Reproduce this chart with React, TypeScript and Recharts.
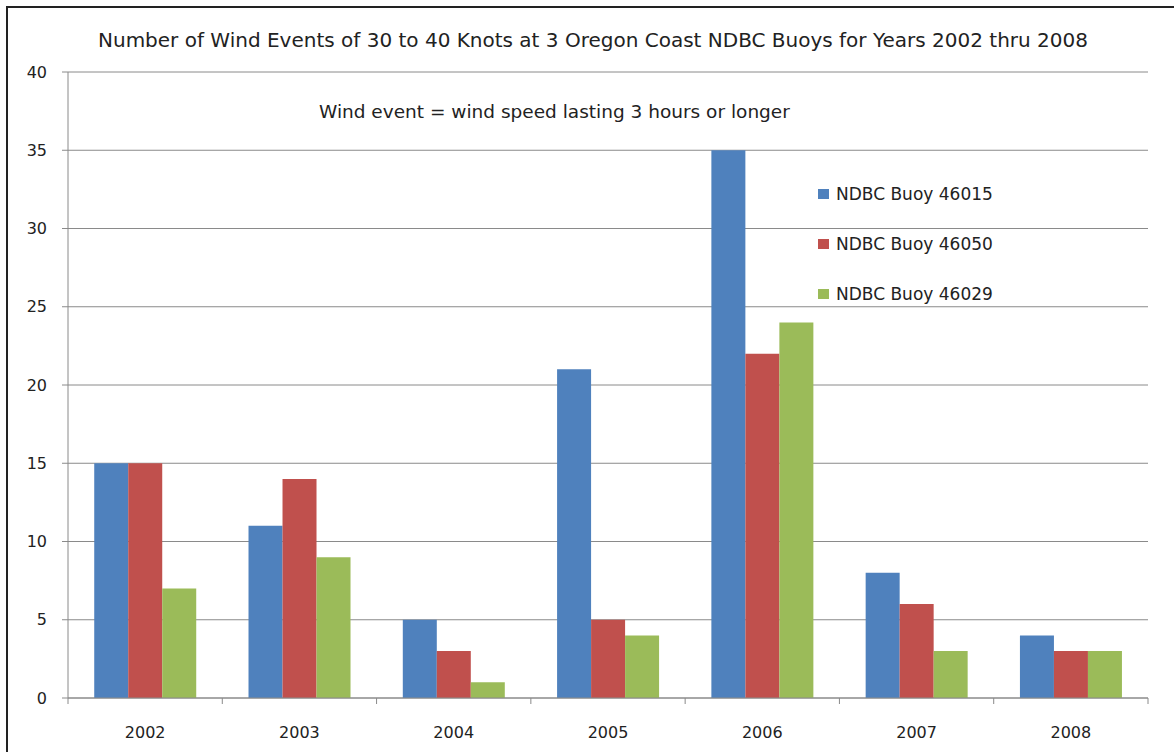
import React from 'react';
import { BarChart, Bar, XAxis, YAxis, CartesianGrid } from 'recharts';

const years = ['2002', '2003', '2004', '2005', '2006', '2007', '2008'];
const buoy46015 = [15, 11, 5, 21, 35, 8, 4];
const buoy46050 = [15, 14, 3, 5, 22, 6, 3];
const buoy46029 = [7, 9, 1, 4, 24, 3, 3];
const yTicks = [0, 5, 10, 15, 20, 25, 30, 35, 40];

const series = [
  { key: 'b46015', name: 'NDBC Buoy 46015', color: '#4F81BD' },
  { key: 'b46050', name: 'NDBC Buoy 46050', color: '#C0504D' },
  { key: 'b46029', name: 'NDBC Buoy 46029', color: '#9BBB59' },
];

const data = years.map((year, i) => ({
  year,
  b46015: buoy46015[i],
  b46050: buoy46050[i],
  b46029: buoy46029[i],
}));

const FONT = '"DejaVu Sans", Verdana, sans-serif';
const TEXT = '#222';
const GRID = '#8a8a8a';

const YearTick = (props: any) => {
  const { x, y, payload, width, visibleTicksCount, index } = props;
  const half = width / visibleTicksCount / 2;
  return (
    <g>
      <line x1={x - half} x2={x - half} y1={y - 6} y2={y} stroke={GRID} strokeWidth={1} />
      {index === visibleTicksCount - 1 && (
        <line x1={x + half} x2={x + half} y1={y - 6} y2={y} stroke={GRID} strokeWidth={1} />
      )}
      <text x={x} y={y + 34} textAnchor="middle" fill={TEXT} fontSize={16} fontFamily={FONT}>
        {payload.value}
      </text>
    </g>
  );
};

const LegendBox = () => (
  <div
    style={{
      position: 'absolute',
      left: 818,
      top: 169,
      fontFamily: FONT,
      fontSize: 17,
      color: TEXT,
      whiteSpace: 'nowrap',
    }}
  >
    {series.map((s) => (
      <div key={s.key} style={{ display: 'flex', alignItems: 'center', height: 50 }}>
        <div style={{ width: 11, height: 10, background: s.color, marginRight: 7 }} />
        <span>{s.name}</span>
      </div>
    ))}
  </div>
);

export default function App() {
  return (
    <div style={{ position: 'absolute', left: 0, top: 0, width: 1174, height: 752, background: '#fff', overflow: 'hidden' }}>
      <div
        style={{
          position: 'absolute',
          left: 6,
          top: 6,
          width: 1180,
          height: 760,
          borderLeft: '2px solid #222',
          borderTop: '2px solid #222',
        }}
      />
      <div
        style={{
          position: 'absolute',
          left: 0,
          width: 1186,
          top: 28,
          textAlign: 'center',
          fontFamily: FONT,
          fontSize: 20,
          color: TEXT,
          whiteSpace: 'nowrap',
        }}
      >
        Number of Wind Events of 30 to 40 Knots at 3 Oregon Coast NDBC Buoys for Years 2002 thru 2008
      </div>
      <div
        style={{
          position: 'absolute',
          left: 319,
          top: 101,
          fontFamily: FONT,
          fontSize: 18.5,
          color: TEXT,
          whiteSpace: 'nowrap',
        }}
      >
        Wind event = wind speed lasting 3 hours or longer
      </div>
      <BarChart
        width={1174}
        height={752}
        data={data}
        margin={{ top: 72, right: 26, left: 8, bottom: 24 }}
        barCategoryGap="17%"
        barGap={0}
      >
        <CartesianGrid horizontal vertical={false} stroke={GRID} strokeWidth={1} />
        <XAxis
          dataKey="year"
          height={30}
          axisLine={{ stroke: GRID }}
          tickLine={false}
          tickSize={6}
          tickMargin={0}
          interval={0}
          tick={<YearTick />}
        />
        <YAxis
          width={60}
          domain={[0, 40]}
          ticks={yTicks}
          interval={0}
          axisLine={{ stroke: GRID }}
          tickLine={{ stroke: GRID }}
          tickSize={6}
          tickMargin={15}
          tick={{ fill: TEXT, fontSize: 16, fontFamily: FONT }}
        />
        {series.map((s) => (
          <Bar key={s.key} dataKey={s.key} name={s.name} fill={s.color} isAnimationActive={false} />
        ))}
      </BarChart>
      <LegendBox />
    </div>
  );
}
